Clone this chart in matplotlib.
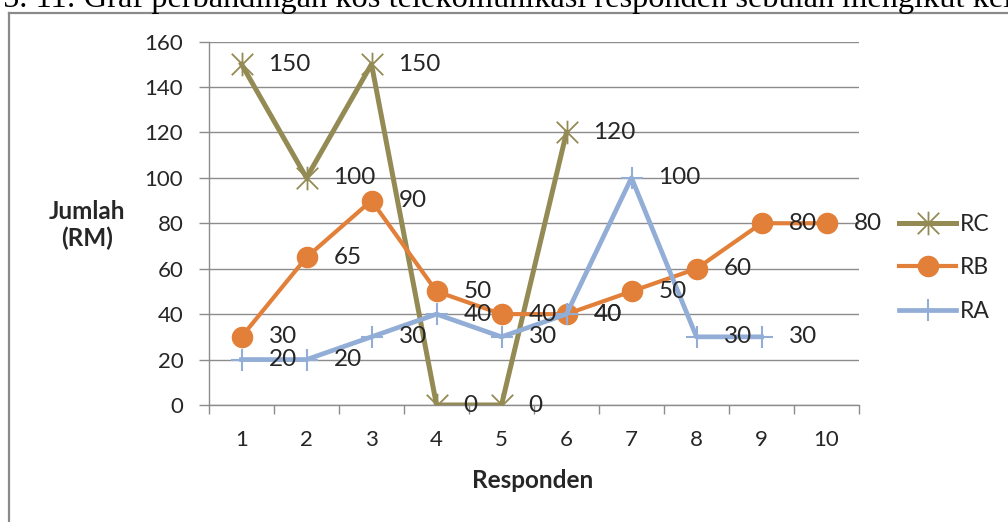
import matplotlib
matplotlib.use("Agg")
import matplotlib.pyplot as plt
from matplotlib.path import Path
from matplotlib.lines import Line2D

# ---- data ----
categories = [1, 2, 3, 4, 5, 6, 7, 8, 9, 10]
rc_values = [150, 100, 150, 0, 0, 120]
rb_values = [30, 65, 90, 50, 40, 40, 50, 60, 80, 80]
ra_values = [20, 20, 30, 40, 30, 40, 100, 30, 30]
series_names = ["RC", "RB", "RA"]
y_ticks = [0, 20, 40, 60, 80, 100, 120, 140, 160]
caption = "5. 11: Graf perbandingan kos telekomunikasi responden sebulan mengikut kelas"
x_label = "Responden"
y_label = "Jumlah\n(RM)"

# ---- style ----
W, H = 1008, 522
DPI = 100
FONT = "Lato"
TXT = "#262626"
C_RC = "#948A54"
C_RB = "#E2803A"
C_RA = "#92ADD6"
GRID = "#8C8C8C"

star = Path(
    [(-1, -1), (1, 1), (-1, 1), (1, -1), (0, -1.1), (0, 1.1)],
    [Path.MOVETO, Path.LINETO, Path.MOVETO, Path.LINETO, Path.MOVETO, Path.LINETO],
)

fig = plt.figure(figsize=(W / DPI, H / DPI), dpi=DPI)
ax = fig.add_axes([209 / W, 1 - 405 / H, (859 - 209) / W, (405 - 41.5) / H])

ax.plot(categories[:len(rc_values)], rc_values, color=C_RC, lw=3.6, marker=star,
        ms=17, mew=1.3, mec=C_RC, mfc="none", label=series_names[0], zorder=3)
ax.plot(categories[:len(rb_values)], rb_values, color=C_RB, lw=3.0, marker="o",
        ms=14.5, mec=C_RB, mfc=C_RB, label=series_names[1], zorder=4)
ax.plot(categories[:len(ra_values)], ra_values, color=C_RA, lw=3.4, marker="+",
        ms=16, mew=1.5, mec=C_RA, label=series_names[2], zorder=5)

for vals in (rc_values, rb_values, ra_values):
    for x, v in zip(categories, vals):
        ax.annotate(str(v), xy=(x, v), xytext=(19.4, 0), textcoords="offset points",
                    ha="left", va="center", fontsize=17.5, family=FONT, color=TXT,
                    zorder=10, annotation_clip=False)

ax.set_xlim(0.5, 10.5)
ax.set_ylim(0, 160)
ax.set_yticks(y_ticks)
ax.set_xticks(categories)
ax.set_xticks([c - 0.5 for c in categories] + [categories[-1] + 0.5], minor=True)
ax.yaxis.grid(True, color=GRID, lw=1.0)
ax.set_axisbelow(True)
for s in ("top", "right"):
    ax.spines[s].set_visible(False)
for s in ("left", "bottom"):
    ax.spines[s].set_color(GRID)
    ax.spines[s].set_linewidth(1.0)
ax.tick_params(axis="y", length=7, width=1.0, color=GRID, pad=11.5, labelsize=16,
               labelcolor=TXT)
ax.tick_params(axis="x", which="major", length=0, pad=18, labelsize=16, labelcolor=TXT)
ax.tick_params(axis="x", which="minor", length=6.5, width=1.0, color=GRID)
for lab in ax.get_xticklabels() + ax.get_yticklabels():
    lab.set_family(FONT)

fig.text(87 / W, 1 - 225 / H, y_label, ha="center", va="center", ma="center",
         fontsize=17.5, fontweight="bold", family=FONT, color=TXT, linespacing=1.15)
fig.text(533 / W, 1 - 480 / H, x_label, ha="center", va="center",
         fontsize=17.5, fontweight="bold", family=FONT, color=TXT)

leg = ax.legend(loc="center left", bbox_to_anchor=(899 / W, 1 - 268 / H),
                bbox_transform=fig.transFigure, frameon=False, borderpad=0,
                borderaxespad=0, handlelength=2.5, handletextpad=0.15,
                labelspacing=1.0, prop={"family": FONT, "size": 16.5})
for t in leg.get_texts():
    t.set_color(TXT)

# frame and cropped caption
fig.add_artist(Line2D([8.5 / W, 1.0], [1 - 12.5 / H, 1 - 12.5 / H], color="#8A8A8A",
                      lw=1.6, transform=fig.transFigure))
fig.add_artist(Line2D([8.5 / W, 8.5 / W], [0, 1 - 12.5 / H], color="#8A8A8A",
                      lw=1.6, transform=fig.transFigure))
fig.text(3 / W, 1 - 7 / H, caption, ha="left", va="baseline", fontsize=23.3,
         family="Liberation Serif", color="black")

fig.savefig("out.png", dpi=DPI)
